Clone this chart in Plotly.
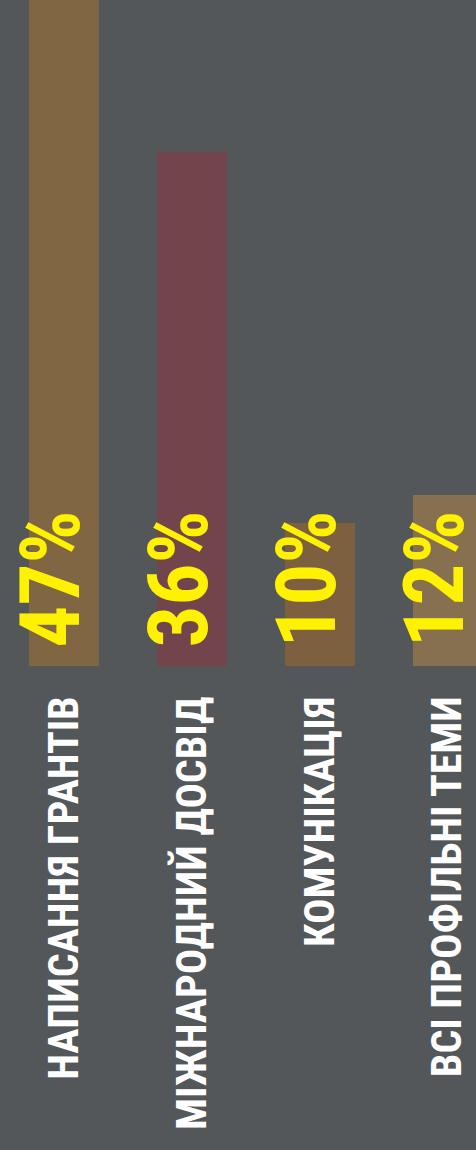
import plotly.graph_objects as go

categories = ["НАПИСАННЯ ГРАНТІВ", "МІЖНАРОДНИЙ ДОСВІД", "КОМУНІКАЦІЯ", "ВСІ ПРОФІЛЬНІ ТЕМИ"]
values = [47, 36, 10, 12]
value_labels = ["47%", "36%", "10%", "12%"]
bar_colors = ["#816643", "#72444b", "#7c6040", "#86704f"]

BG = "#535759"
FONT = "Roboto Condensed, Liberation Sans Narrow, DejaVu Sans Condensed, sans-serif"

fig = go.Figure()
fig.add_trace(go.Bar(
    x=categories, y=values, marker=dict(color=bar_colors, line=dict(width=0)),
    width=0.547, hoverinfo="skip",
))

for c, lab in zip(categories, value_labels):
    fig.add_annotation(
        x=c, xref="x", y=0.2372, yref="paper", yanchor="top", xanchor="center",
        text=lab, textangle=-90, showarrow=False, xshift=-13,
        font=dict(family=FONT, size=83, color="#fff200", weight="bold"),
    )

fig.update_layout(
    width=476, height=1150,
    margin=dict(l=0, r=0, t=0, b=484),
    paper_bgcolor=BG, plot_bgcolor=BG,
    showlegend=False, bargap=0,
)
fig.update_xaxes(
    range=[-0.5, 3.22], tickangle=-90, showgrid=False, zeroline=False, showline=False,
    ticks="", ticklabelstandoff=21, automargin=False,
    tickfont=dict(family=FONT, size=42, color="#ffffff", weight="bold"),
)
fig.update_yaxes(range=[0, 46.64], visible=False, showgrid=False, zeroline=False)

fig.write_html("out.html")
